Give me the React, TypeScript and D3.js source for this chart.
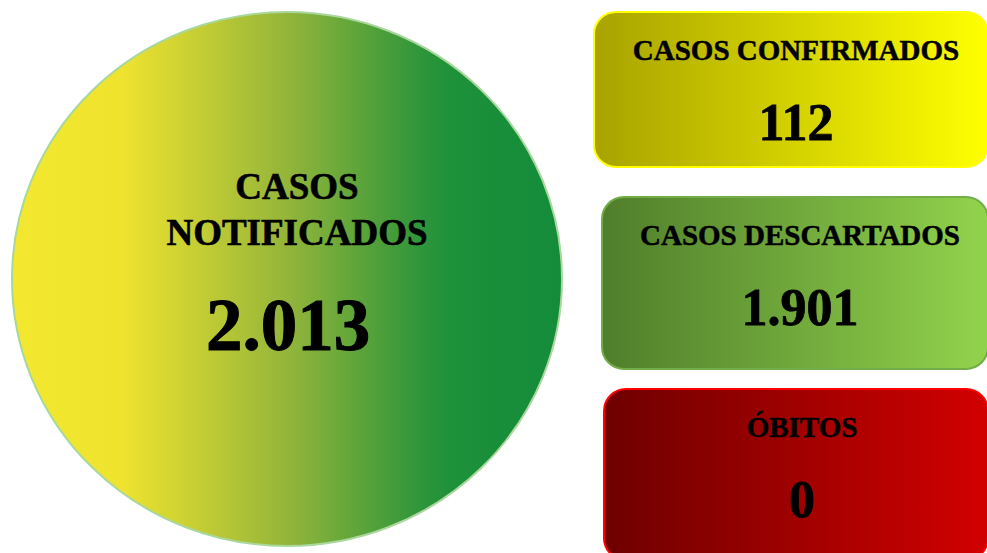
import React from 'react';
import * as d3 from 'd3';

// Main indicator (circle)
const mainLabel = ['CASOS', 'NOTIFICADOS'];
const mainValue = '2.013';

// Side indicator boxes
const boxLabels = ['CASOS CONFIRMADOS', 'CASOS DESCARTADOS', 'ÓBITOS'];
const boxValues = ['112', '1.901', '0'];
const boxFrom = ['#a8a300', '#4f7e2b', '#6e0000'];
const boxTo = ['#ffff00', '#92d34c', '#d20000'];
const boxStroke = ['#ffff00', '#72ad4a', '#ff0000'];

const W = 987;
const H = 553;
const FONT = '"Liberation Serif", "Times New Roman", serif';

// box layout: x start, y top, y bottom, text centre
const boxX = [594, 602, 604];
const boxTop = [12, 197, 389];
const boxBottom = [167, 369, 560];
const boxTextX = [796, 800, 802];

const App = () => {
  const circleFill = d3.scaleLinear<string>()
    .domain([0, 0.2, 0.5, 0.78, 1])
    .range(['#f3e82e', '#efe32e', '#94b53a', '#1f913a', '#138c3a']);
  const stops = d3.range(0, 1.0001, 0.05);

  return (
    <svg width={W} height={H} style={{ position: 'absolute', left: 0, top: 0 }}>
      <defs>
        <linearGradient id="circleGrad" x1="0" x2="1" y1="0" y2="0">
          {stops.map((t, i) => (
            <stop key={i} offset={t} stopColor={circleFill(t)} />
          ))}
        </linearGradient>
        {boxLabels.map((_, i) => (
          <linearGradient key={i} id={`boxGrad${i}`} x1="0" x2="1" y1="0" y2="0">
            <stop offset="0" stopColor={boxFrom[i]} />
            <stop offset="1" stopColor={boxTo[i]} />
          </linearGradient>
        ))}
      </defs>

      <ellipse cx={287} cy={279} rx={275} ry={267}
        fill="url(#circleGrad)" stroke="#a9d79c" strokeWidth={2} />
      <g fontFamily={FONT} fontWeight="bold" fill="#000" stroke="#000" strokeWidth={0.6} textAnchor="middle">
        <text x={297} y={199} fontSize={37}>{mainLabel[0]}</text>
        <text x={297} y={245} fontSize={37}>{mainLabel[1]}</text>
        <text x={288} y={350} fontSize={73} strokeWidth={1}>{mainValue}</text>
      </g>

      {boxLabels.map((label, i) => {
        const x0 = boxX[i];
        const y0 = boxTop[i];
        const h = boxBottom[i] - y0;
        const w = W + 1 - x0;
        return (
          <g key={i}>
            <rect x={x0} y={y0} width={w} height={h} rx={22} ry={22}
              fill={`url(#boxGrad${i})`} stroke={boxStroke[i]} strokeWidth={2} />
            <g fontFamily={FONT} fontWeight="bold" fill="#000" stroke="#000" strokeWidth={0.5} textAnchor="middle">
              <text x={boxTextX[i]} y={y0 + 48} fontSize={29}>{label}</text>
              <text x={boxTextX[i]} y={y0 + 128} fontSize={52} strokeWidth={0.8}>{boxValues[i]}</text>
            </g>
          </g>
        );
      })}
    </svg>
  );
};

export default App;
